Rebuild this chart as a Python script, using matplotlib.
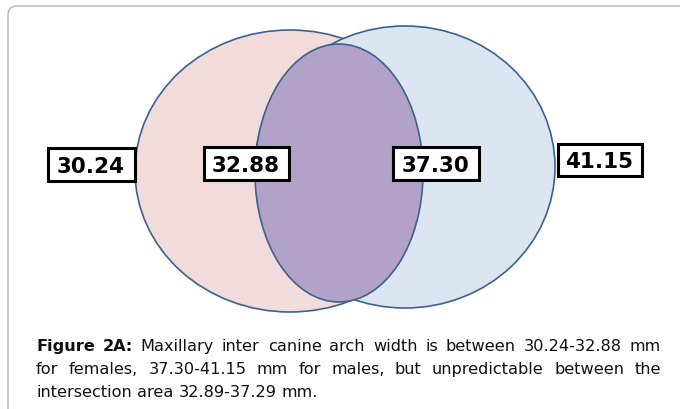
import matplotlib
matplotlib.use("Agg")
import matplotlib.pyplot as plt
from matplotlib.patches import Ellipse, Rectangle, FancyBboxPatch

# Venn labels (mm), left to right
labels = ["30.24", "32.88", "37.30", "41.15"]

# caption lines: (text, justified)
caption_bold = "Figure 2A:"
caption_lines = [
    ("Maxillary inter canine arch width is between 30.24-32.88 mm", True),
    ("for females, 37.30-41.15 mm for males, but unpredictable between the", True),
    ("intersection area 32.89-37.29 mm.", False),
]

W, H = 680, 410
fig = plt.figure(figsize=(W / 100, H / 100), dpi=100)
ax = fig.add_axes([0, 0, 1, 1])
ax.set_xlim(0, W)
ax.set_ylim(H, 0)
ax.axis("off")

# outer frame (runs off the right and bottom edges)
ax.add_patch(FancyBboxPatch((8, 7), 720, 440, boxstyle="round,pad=0,rounding_size=9",
                            facecolor="white", edgecolor="#b4b4b4", linewidth=1.0))

edge = "#3c6190"
# female (left), male (right), overlap drawn on top
ax.add_patch(Ellipse((290, 172), 310, 282, facecolor="#f2dcdb", edgecolor=edge, linewidth=1.2))
ax.add_patch(Ellipse((405, 168), 300, 282, facecolor="#dce6f2", edgecolor=edge, linewidth=1.2))
ax.add_patch(Ellipse((339, 174), 168, 258, facecolor="#b3a2c7", edgecolor=edge, linewidth=1.2))

# label boxes: (left, top, right, bottom)
boxes = [(46, 147, 136, 183), (202, 146, 290, 182), (391, 146, 480, 182), (556, 143, 643, 178)]
for lab, (l, t, r, b) in zip(labels, boxes):
    ax.add_patch(Rectangle((l + 1.5, t + 1.5), r - l - 3, b - t - 3,
                           facecolor="white", edgecolor="black", linewidth=2.2))
    ax.text((l + r) / 2, (t + b) / 2 + 8, lab, ha="center", va="baseline",
            fontsize=15.5, fontweight="bold", color="black")

# caption, justified like the journal layout
renderer = fig.canvas.get_renderer()
x0, x1 = 36, 661
baselines = [351.5, 374.5, 397.5]
fs = 11.6


def place_words(words, y, justify):
    texts = []
    for w, weight in words:
        texts.append(ax.text(x0, y, w, ha="left", va="baseline", fontsize=fs,
                             fontweight=weight, color="#111111"))
    widths = [t.get_window_extent(renderer).width for t in texts]
    if justify and len(texts) > 1:
        gap = (x1 - x0 - sum(widths)) / (len(texts) - 1)
    else:
        sp = ax.text(0, 0, "a a", fontsize=fs)
        sp2 = ax.text(0, 0, "aa", fontsize=fs)
        gap = sp.get_window_extent(renderer).width - sp2.get_window_extent(renderer).width
        sp.remove()
        sp2.remove()
    x = x0
    for t, w in zip(texts, widths):
        t.set_x(x)
        x += w + gap


for i, ((line, justify), y) in enumerate(zip(caption_lines, baselines)):
    words = [(w, "normal") for w in line.split()]
    if i == 0:
        words = [(w, "bold") for w in caption_bold.split()] + words
    place_words(words, y, justify)

fig.savefig("out.png", dpi=100)
